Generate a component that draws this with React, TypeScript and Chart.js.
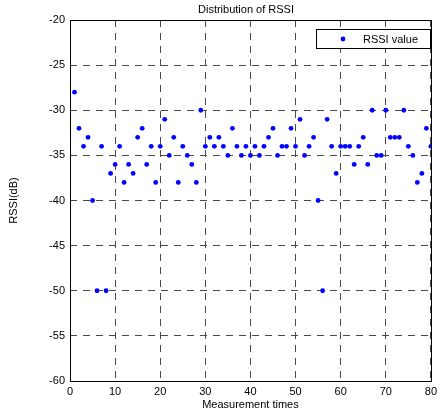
import React, { useEffect, useRef } from "react";
import { Chart, registerables } from "chart.js";

Chart.register(...registerables);

const measurementTimes = [
  1, 2, 3, 4, 5, 6, 7, 8, 9, 10, 11, 12, 13, 14, 15, 16, 17, 18, 19, 20,
  21, 22, 23, 24, 25, 26, 27, 28, 29, 30, 31, 32, 33, 34, 35, 36, 37, 38, 39, 40,
  41, 42, 43, 44, 45, 46, 47, 48, 49, 50, 51, 52, 53, 54, 55, 56, 57, 58, 59, 60,
  61, 62, 63, 64, 65, 66, 67, 68, 69, 70, 71, 72, 73, 74, 75, 76, 77, 78, 79, 80,
];

const rssiValues = [
  -28, -32, -34, -33, -40, -50, -34, -50, -37, -36,
  -34, -38, -36, -37, -33, -32, -36, -34, -38, -34,
  -31, -35, -33, -38, -34, -35, -36, -38, -30, -34,
  -33, -34, -33, -34, -35, -32, -34, -35, -34, -35,
  -34, -35, -34, -33, -32, -35, -34, -34, -32, -34,
  -31, -35, -34, -33, -40, -50, -31, -34, -37, -34,
  -34, -34, -36, -34, -33, -36, -30, -35, -35, -30,
  -33, -33, -33, -30, -34, -35, -38, -37, -32, -34,
];

const xTicks = [0, 10, 20, 30, 40, 50, 60, 70, 80];
const yTicks = [-60, -55, -50, -45, -40, -35, -30, -25, -20];

const chartTitle = "Distribution of RSSI";
const seriesLabel = "RSSI value";
const xTitle = "Measurement times";
const yTitle = "RSSI(dB)";

const FONT = '"Liberation Sans", Arial, sans-serif';

const framePlugin = {
  id: "frameAndLegend",
  beforeDraw(chart: any) {
    const { ctx, width, height } = chart;
    ctx.save();
    ctx.fillStyle = "#ffffff";
    ctx.fillRect(0, 0, width, height);
    ctx.restore();
  },
  afterDraw(chart: any) {
    const { ctx, chartArea: a } = chart;
    ctx.save();
    ctx.strokeStyle = "#000";
    ctx.lineWidth = 1;
    ctx.setLineDash([]);
    const l = Math.round(a.left) + 0.5;
    const t = Math.round(a.top) + 0.5;
    const r = Math.round(a.right) + 0.5;
    const b = Math.round(a.bottom) + 0.5;
    ctx.strokeRect(l, t, r - l, b - t);

    // title
    ctx.fillStyle = "#000";
    ctx.font = `11px ${FONT}`;
    ctx.textAlign = "center";
    ctx.textBaseline = "middle";
    ctx.fillText(chartTitle, 246, 10);

    // legend
    const ds = chart.data.datasets[0];
    const w = 114;
    const h = 19;
    const x = Math.round(a.right) - 1 - w;
    const y = Math.round(a.top) + 9;
    ctx.fillStyle = "#fff";
    ctx.fillRect(x, y, w, h);
    ctx.strokeRect(x + 0.5, y + 0.5, w, h);
    ctx.fillStyle = ds.backgroundColor;
    ctx.beginPath();
    ctx.arc(x + 27, y + h / 2 + 0.5, 2.4, 0, Math.PI * 2);
    ctx.fill();
    ctx.fillStyle = "#000";
    ctx.textAlign = "left";
    ctx.fillText(ds.label, x + 47, y + h / 2 + 1);
    ctx.restore();
  },
};

export default function App() {
  const canvasRef = useRef<HTMLCanvasElement | null>(null);

  useEffect(() => {
    if (!canvasRef.current) return;
    const chart = new Chart(canvasRef.current, {
      type: "scatter",
      data: {
        datasets: [
          {
            label: seriesLabel,
            data: measurementTimes.map((t, i) => ({ x: t, y: rssiValues[i] })),
            backgroundColor: "#0000ff",
            borderColor: "#0000ff",
            pointRadius: 2.4,
            pointBorderWidth: 0,
            pointHoverRadius: 2.4,
          },
        ],
      },
      options: {
        responsive: false,
        animation: false,
        layout: { padding: { top: 20, right: 8, bottom: 0, left: 0 } },
        plugins: {
          legend: { display: false },
          title: { display: false },
          tooltip: { enabled: false },
        },
        scales: {
          x: {
            type: "linear",
            min: 0,
            max: 80,
            afterBuildTicks: (axis: any) => {
              axis.ticks = xTicks.map((v) => ({ value: v }));
            },
            afterFit: (scale: any) => {
              scale.height = 33;
            },
            grid: { color: "#4a4a4a", lineWidth: 1, drawTicks: false },
            border: { display: false, dash: [7, 6] },
            ticks: {
              color: "#000",
              padding: 4,
              maxRotation: 0,
              autoSkip: false,
              font: { family: FONT, size: 11 },
              callback: (v: any) => String(v),
            },
            title: {
              display: true,
              text: xTitle,
              color: "#000",
              padding: { top: 0, bottom: 2 },
              font: { family: FONT, size: 11 },
            },
          },
          y: {
            type: "linear",
            min: -60,
            max: -20,
            afterBuildTicks: (axis: any) => {
              axis.ticks = yTicks.map((v) => ({ value: v }));
            },
            afterFit: (scale: any) => {
              scale.width = 70;
            },
            grid: { color: "#4a4a4a", lineWidth: 1, drawTicks: false },
            border: { display: false, dash: [7, 6] },
            ticks: {
              color: "#000",
              padding: 5,
              autoSkip: false,
              font: { family: FONT, size: 11 },
              callback: (v: any) => String(v),
            },
            title: {
              display: true,
              text: yTitle,
              color: "#000",
              padding: { top: 7, bottom: 0 },
              font: { family: FONT, size: 11 },
            },
          },
        },
      },
      plugins: [framePlugin],
    });
    return () => chart.destroy();
  }, []);

  return (
    <div style={{ position: "absolute", left: 0, top: 0, width: 441, height: 414 }}>
      <canvas ref={canvasRef} width={441} height={414} />
    </div>
  );
}
